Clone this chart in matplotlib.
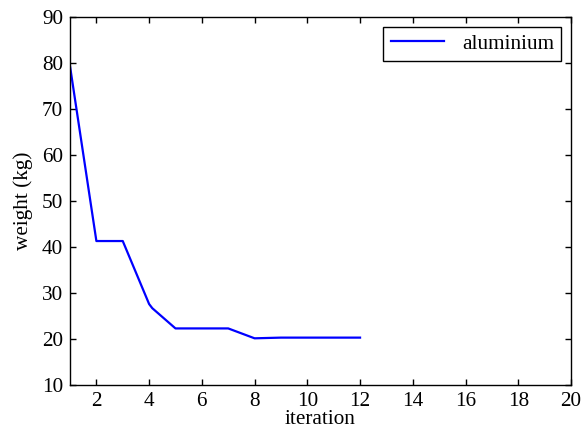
import matplotlib
matplotlib.use("Agg")
import matplotlib.pyplot as plt

# weight per iteration
iteration = [1, 2, 3, 4, 4.12, 5, 6, 7, 8, 9, 10, 11, 12]
weight_al = [79.3, 41.3, 41.3, 27.6, 26.7, 22.3, 22.3, 22.3, 20.15, 20.3, 20.3, 20.3, 20.3]

x_ticks = [2, 4, 6, 8, 10, 12, 14, 16, 18, 20]
y_ticks = [10, 20, 30, 40, 50, 60, 70, 80, 90]

fs = 15.3
plt.rcParams['font.family'] = ['Liberation Serif', 'DejaVu Serif']
plt.rcParams['font.size'] = fs

fig = plt.figure(figsize=(5.84, 4.37), dpi=100)
ax = fig.add_axes([0.1199, 0.119, 0.8578, 0.842])

ax.plot(iteration, weight_al, color=(0, 0, 1), linewidth=1.6, label='aluminium')

ax.set_xlim(1, 20)
ax.set_ylim(10, 90)
ax.set_xticks(x_ticks)
ax.set_yticks(y_ticks)
ax.tick_params(direction='in', top=True, right=True, length=4.5, width=1,
               labelsize=fs, pad=5)
for s in ax.spines.values():
    s.set_linewidth(1)

ax.set_xlabel('iteration', fontsize=fs, labelpad=-1)
ax.set_ylabel('weight (kg)', fontsize=fs, labelpad=6)

leg = ax.legend(loc='upper right', fontsize=fs, fancybox=False, framealpha=1,
                edgecolor='black', handlelength=2.5, borderaxespad=0.45,
                borderpad=0.35, handletextpad=0.85)
leg.get_frame().set_linewidth(1)

fig.savefig('out.png', dpi=100)
